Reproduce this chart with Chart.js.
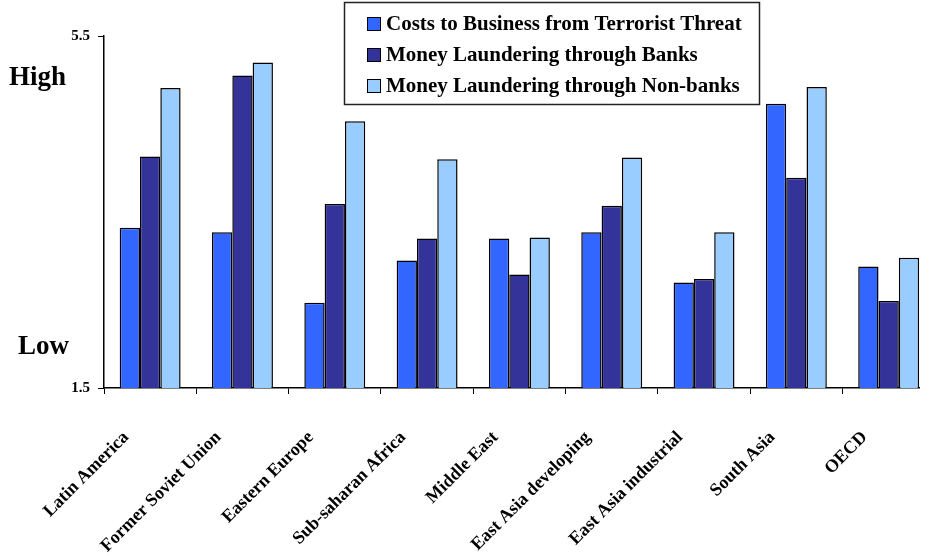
<!DOCTYPE html>
<html>
<head>
<meta charset="utf-8">
<script src="https://cdn.jsdelivr.net/npm/chart.js@4/dist/chart.umd.min.js"></script>
<style>
  html, body { margin: 0; padding: 0; background: #fff; overflow: hidden; }
  #wrap { width: 920px; height: 556px; overflow: hidden; }
</style>
</head>
<body>
<div id="wrap"><canvas id="chart" width="937" height="556"></canvas></div>
<script>
// regions along the x axis
const regions = [
  "Latin America",
  "Former Soviet Union",
  "Eastern Europe",
  "Sub-saharan Africa",
  "Middle East",
  "East Asia developing",
  "East Asia industrial",
  "South Asia",
  "OECD",
];
// series values (1.5 = low, 5.5 = high)
const terrorCosts = [3.32, 3.27, 2.47, 2.95, 3.2, 3.27, 2.7, 4.73, 2.88];
const launderingBanks = [4.13, 5.05, 3.59, 3.2, 2.79, 3.57, 2.74, 3.89, 2.49];
const launderingNonBanks = [4.91, 5.2, 4.53, 4.1, 3.21, 4.12, 3.27, 4.92, 2.98];
const seriesNames = [
  "Costs to Business from Terrorist Threat",
  "Money Laundering through Banks",
  "Money Laundering through Non-banks",
];
const seriesColors = ["#3366ff", "#333399", "#99ccff"];
const yTicks = [1.5, 5.5];

const serif = "'Liberation Serif', 'Times New Roman', serif";

// High / Low side notes and the boxed legend
const extrasPlugin = {
  id: "extras",
  afterDraw(chart) {
    const ctx = chart.ctx;
    const y = chart.scales.y;
    ctx.save();
    ctx.fillStyle = "#000";
    ctx.font = "bold 27px " + serif;
    ctx.textAlign = "left";
    ctx.textBaseline = "alphabetic";
    ctx.fillText("High", 9, y.getPixelForValue(5.5) + 49);
    ctx.fillText("Low", 18, y.getPixelForValue(1.5) - 34);

    // legend box
    ctx.lineWidth = 1.5;
    ctx.strokeStyle = "#222";
    ctx.strokeRect(344.5, 2.5, 415, 102);
    ctx.font = "bold 21px " + serif;
    ctx.textBaseline = "middle";
    seriesNames.forEach((name, i) => {
      const cy = 24 + i * 31;
      ctx.fillStyle = seriesColors[i];
      ctx.fillRect(367, cy - 7, 14, 14);
      ctx.lineWidth = 1;
      ctx.strokeStyle = "#000";
      ctx.strokeRect(367.5, cy - 6.5, 13, 13);
      ctx.fillStyle = "#000";
      ctx.fillText(name, 386, cy + 1);
    });
    ctx.restore();
  },
};

const ctx = document.getElementById("chart").getContext("2d");
new Chart(ctx, {
  type: "bar",
  data: {
    labels: regions,
    datasets: [terrorCosts, launderingBanks, launderingNonBanks].map(
      (values, i) => ({
        label: seriesNames[i],
        data: values,
        backgroundColor: seriesColors[i],
        borderColor: "#000",
        borderWidth: 1.5,
        borderSkipped: "bottom",
        categoryPercentage: 0.66,
        barPercentage: 1,
      })
    ),
  },
  options: {
    responsive: false,
    animation: false,
    layout: { padding: { top: 36, right: 1, left: 0, bottom: 0 } },
    plugins: {
      legend: { display: false },
      tooltip: { enabled: false },
    },
    scales: {
      x: {
        offset: true,
        grid: {
          offset: true,
          drawOnChartArea: false,
          drawTicks: true,
          tickLength: 6,
          color: "#000",
        },
        border: { display: true, color: "#000", width: 1.5 },
        ticks: {
          autoSkip: false,
          maxRotation: 45,
          minRotation: 45,
          labelOffset: -24,
          padding: 33,
          color: "#000",
          font: { family: serif, size: 18, weight: "bold" },
        },
        afterFit(scale) {
          scale.height = 168;
        },
      },
      y: {
        min: 1.5,
        max: 5.5,
        afterBuildTicks(scale) {
          scale.ticks = yTicks.map((v) => ({ value: v }));
        },
        grid: {
          drawOnChartArea: false,
          drawTicks: true,
          tickLength: 6,
          color: "#000",
        },
        border: { display: true, color: "#000", width: 1.5 },
        ticks: {
          padding: 8,
          color: "#000",
          font: { family: serif, size: 15, weight: "bold" },
          callback: (v) => v.toFixed(1),
        },
        afterFit(scale) {
          scale.width = 104;
        },
      },
    },
  },
  plugins: [extrasPlugin],
});
</script>
</body>
</html>
